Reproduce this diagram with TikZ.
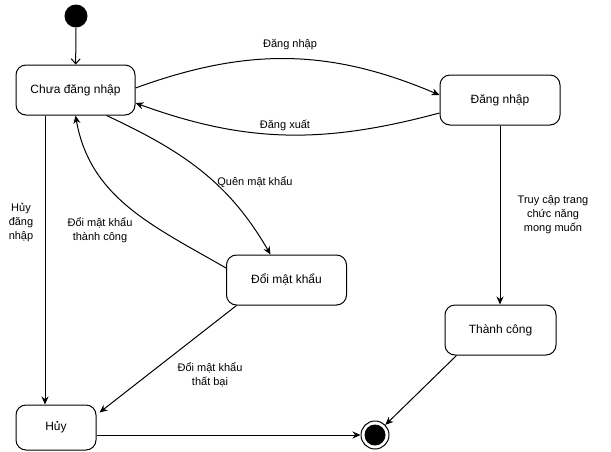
\documentclass[tikz,border=0pt]{standalone}
\usepackage{fontspec}
\setmainfont{Liberation Sans}
\usetikzlibrary{arrows.meta}
\begin{document}
\begin{tikzpicture}[>={Stealth[length=8pt,width=7pt]}, x=1pt, y=-1pt, line width=1pt,
    state/.style={draw, rounded corners=10pt, minimum height=50pt, inner sep=0pt, font=\fontsize{12}{14}\selectfont},
    lbl/.style={font=\fontsize{11}{14}\selectfont, align=center, inner sep=1pt}]
\useasboundingbox (0,0) rectangle (611,451);
\node[circle, fill, minimum size=23pt, inner sep=0pt] (start) at (76,16) {};
\node[state, minimum width=119pt] (chua) at (75.5,90) {Chưa đăng nhập};
\node[state, minimum width=120pt] (dn) at (500,100) {Đăng nhập};
\node[state, minimum width=120pt] (doi) at (286.5,280) {Đổi mật khẩu};
\node[state, minimum width=111pt] (tc) at (500.5,330) {Thành công};
\node[state, minimum width=80pt, minimum height=45pt] (huy) at (56,427.5) {Hủy};
\node[circle, draw, minimum size=28pt, inner sep=0pt] (end) at (375,435) {};
\node[circle, fill, minimum size=21pt, inner sep=0pt] (endin) at (end) {};
\draw[-{Straight Barb[length=5pt,width=9pt]}] (start) -- (chua);
\draw[->] ([yshift=2pt]chua.east) to[out=20, in=157] ([yshift=5pt]dn.west);
\draw[->] ([yshift=-13pt]dn.west) to[out=195, in=-20] ([yshift=-13pt]chua.east);
\draw[->] ([xshift=31pt]chua.south) to[out=-25, in=120] ([xshift=-16pt]doi.north);
\draw[->] ([yshift=12pt]doi.west) to[out=150, in=-80] (chua.south);
\draw[->] ([xshift=-50pt]doi.south) -- ([xshift=3pt, yshift=-8pt]huy.north east);
\draw[->] ([xshift=-30.5pt]chua.south) -- ([xshift=-30.5pt]chua.south |- huy.north);
\draw[->] (dn.south) -- (dn.south |- tc.north);
\draw[->] ([xshift=-44pt]tc.south) -- (end);
\draw[->] (huy.east |- end) -- (end);
\node[lbl] (l1) at (290,45) {Đăng nhập};
\node[lbl] (l2) at (285,125) {Đăng xuất};
\node[lbl] (l3) at (255,182) {Quên mật khẩu};
\node[lbl] (l4) at (100,230) {Đổi mật khẩu\\thành công};
\node[lbl] (l5) at (210,375) {Đổi mật khẩu\\thất bại};
\node[lbl] (l6) at (553,215) {Truy cập trang\\chức năng\\mong muốn};
\node[lbl] (l7) at (21,222) {Hủy\\đăng\\nhập};
\end{tikzpicture}
\end{document}
